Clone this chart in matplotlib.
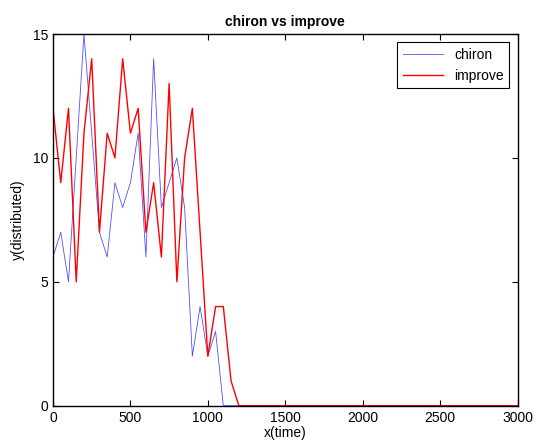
import numpy as np
import matplotlib.pyplot as plt

plt.rcParams["font.family"] = ["Liberation Sans", "DejaVu Sans"]

# samples every 50 time units from 0 to 3000
x_time = np.arange(0, 3001, 50)

chiron_head = [6, 7, 5, 10, 15, 11, 7, 6, 9, 8, 9, 11, 6, 14, 8, 9, 10, 8,
               2, 4, 2, 3, 0]
improve_head = [12, 9, 12, 5, 11, 14, 7, 11, 10, 14, 11, 12, 7, 9, 6, 13, 5,
                10, 12, 7, 2, 4, 4, 1, 0]

chiron = chiron_head + [0] * (len(x_time) - len(chiron_head))
improve = improve_head + [0] * (len(x_time) - len(improve_head))

fig = plt.figure(figsize=(5.43, 4.44), dpi=100)
ax = fig.add_axes([53 / 543, 38.3 / 444, 464.5 / 543, 371.7 / 444])

ax.plot(x_time, chiron, color="#5050ff", lw=0.6, label="chiron")
ax.plot(x_time, improve, color="#ff0000", lw=1.0, label="improve")

ax.set_xlim(0, 3000)
ax.set_ylim(0, 15)
ax.set_xticks(np.arange(0, 3001, 500))
ax.set_yticks([0, 5, 10, 15])
ax.tick_params(direction="in", top=True, right=True, labelsize=10,
               length=4, width=0.8)
for sp in ax.spines.values():
    sp.set_linewidth(1.0)

ax.set_title("chiron vs improve", fontsize=10, fontweight="bold", pad=6)
ax.set_xlabel("x(time)", fontsize=10, labelpad=1)
ax.set_ylabel("y(distributed)", fontsize=10, labelpad=6)

leg = ax.legend(loc="upper right", fontsize=10, fancybox=False,
                framealpha=1, edgecolor="black", borderaxespad=0.6,
                handlelength=2.9, borderpad=0.4)
leg.get_frame().set_linewidth(0.8)

fig.savefig("out.png", dpi=100)
